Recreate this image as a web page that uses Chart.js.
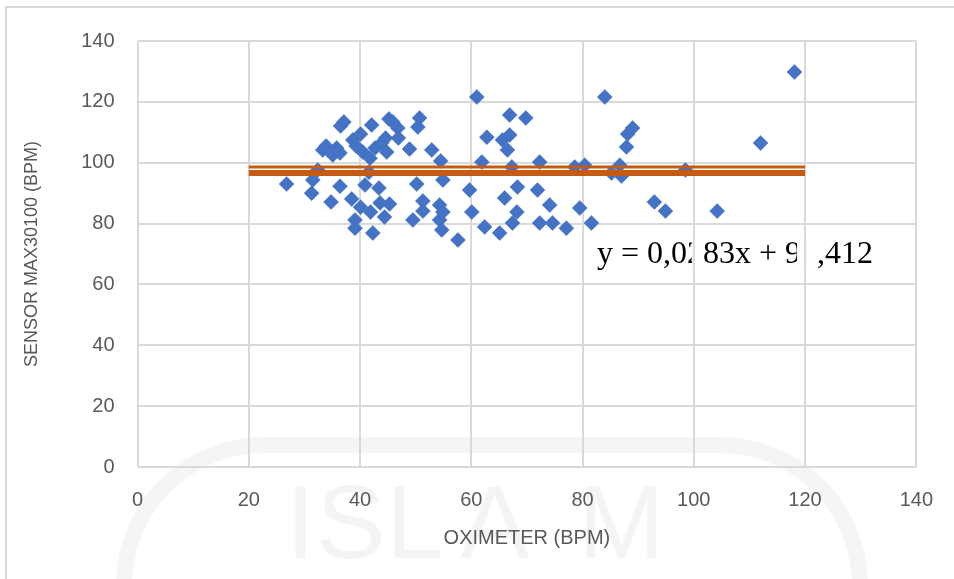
<!DOCTYPE html>
<html><head><meta charset="utf-8">
<script src="https://cdn.jsdelivr.net/npm/chart.js@4.4.0/dist/chart.umd.min.js"></script>
<style>
html,body{margin:0;padding:0;background:#fff;}
#wrap{position:relative;width:954px;height:579px;overflow:hidden;}
#frame{position:absolute;left:5px;top:6px;width:2000px;height:2000px;border-left:2px solid #d9d9d9;border-top:2px solid #d9d9d9;}
canvas{position:absolute;left:0;top:0;}
</style></head><body>
<div id="wrap"><div id="frame"></div><canvas id="c" width="954" height="579"></canvas></div>
<script>
// Scatter data: OXIMETER (x) vs SENSOR MAX30100 (y), in BPM
const oximeter = [26.8,31.3,31.5,32.4,33.3,33.9,34.8,35.1,36.4,36.5,37.1,36.4,35.8,38.7,38.5,39.1,39.1,40.1,40.1,40.5,
  40.9,41.6,41.8,42.1,41.9,42.3,42.7,43.4,43.6,43.9,44.4,44.6,44.8,45.2,45.3,45.9,46.8,46.9,48.9,49.5,
  50.2,50.4,50.7,51.3,51.3,52.9,54.5,54.3,54.9,54.3,54.7,54.9,57.6,59.7,60.1,61.0,61.9,62.4,62.8,65.1,
  66.9,69.8,65.6,66.9,66.5,67.3,68.3,66.0,68.2,67.4,72.3,71.9,74.1,72.3,74.6,77.1,78.6,80.4,79.5,81.6,
  84.0,85.2,86.7,87.0,87.9,89.0,88.1,92.9,94.9,98.5,104.2,112.0,118.1,39.3];
const sensor = [93.0,90.0,94.3,97.6,104.2,105.5,87.1,102.5,92.3,112.1,113.4,103.2,104.8,107.5,88.1,81.2,78.5,85.4,109.4,103.5,
  92.7,96.9,101.5,112.4,83.8,76.9,104.8,91.7,86.8,106.5,82.2,108.1,103.5,114.4,86.4,113.4,111.4,108.1,104.5,81.2,
  93.0,111.7,114.7,87.4,84.1,104.2,100.6,86.1,83.8,81.2,77.9,94.3,74.6,91.0,83.8,121.6,100.2,78.9,108.4,76.9,
  115.7,114.7,107.5,109.1,104.2,98.6,92.0,88.4,83.8,80.2,100.2,91.0,86.1,80.2,80.2,78.5,98.6,99.2,85.1,80.2,
  121.6,96.6,99.2,95.6,105.2,111.4,109.4,87.1,84.1,97.6,84.1,106.5,129.8,105.5];

// Horizontal reference lines
const refX = [20, 120];
const refUpper = [98.6, 98.6];
const refLower = [96.6, 96.6];

// Axis ticks and labels
const xTickValues = [0,20,40,60,80,100,120,140];
const yTickValues = [0,20,40,60,80,100,120,140];
const xTitle = 'OXIMETER (BPM)';
const yTitle = 'SENSOR MAX30100 (BPM)';
const equationText = 'y = 0,0283x + 91,412';
const equationAt = {x: 82.6, y: 67};
const watermarkLetters = ['I','S','L','A','M'];

const points = oximeter.map((v,i)=>({x:v, y:sensor[i]}));
const upperLine = refX.map((v,i)=>({x:v, y:refUpper[i]}));
const lowerLine = refX.map((v,i)=>({x:v, y:refLower[i]}));

const GRID = '#d9d9d9';
const TXT = '#595959';
const FAM = '"Liberation Sans", Arial, sans-serif';
const tickFont = {family:FAM, size:20};

const watermarkPlugin = {
  id:'watermark',
  beforeDraw(chart){
    const ctx = chart.ctx;
    ctx.save();
    ctx.strokeStyle = '#f5f5f5';
    ctx.lineWidth = 16;
    const l = 124, r = 860, t = 445, b = 700, rad = 140;
    ctx.beginPath();
    ctx.moveTo(l, b);
    ctx.lineTo(l, t+rad);
    ctx.arcTo(l, t, l+rad, t, rad);
    ctx.lineTo(r-rad, t);
    ctx.arcTo(r, t, r, t+rad, rad);
    ctx.lineTo(r, b);
    ctx.stroke();
    ctx.fillStyle = '#f4f4f4';
    ctx.font = '104px ' + FAM;
    ctx.textBaseline = 'alphabetic';
    const xs = [286, 316, 386, 460, 578];
    watermarkLetters.forEach((ch,i)=>ctx.fillText(ch, xs[i], 558));
    ctx.restore();
  }
};

const equationPlugin = {
  id:'equation',
  afterDraw(chart){
    const ctx = chart.ctx, xs = chart.scales.x, ys = chart.scales.y;
    const px = xs.getPixelForValue(equationAt.x), py = ys.getPixelForValue(equationAt.y);
    ctx.save();
    ctx.font = '32px "Liberation Serif", "Times New Roman", serif';
    ctx.fillStyle = '#000';
    ctx.textBaseline = 'alphabetic';
    ctx.textAlign = 'left';
    ctx.fillText(equationText, px, py);
    // gridlines cut through the label in the reference
    const gaps = [[100,-2,9],[120,-8,10]];
    gaps.forEach(([v,a,b])=>{
      const gx = xs.getPixelForValue(v);
      ctx.fillStyle = '#fff';
      ctx.fillRect(gx+a, py-26, b-a, 34);
      ctx.fillStyle = GRID;
      ctx.fillRect(gx-1, py-26, 2, 34);
    });
    ctx.restore();
  }
};

new Chart(document.getElementById('c'), {
  type:'scatter',
  data:{datasets:[
    {label:'data', data:points, pointStyle:'rectRot', pointRadius:7.5, pointHoverRadius:7.5,
     backgroundColor:'#4472C4', borderColor:'#4472C4', borderWidth:0.5, order:2},
    {type:'line', label:'upper', data:upperLine, borderColor:'#C55A11', borderWidth:3, pointRadius:0, showLine:true, fill:false, order:1},
    {type:'line', label:'lower', data:lowerLine, borderColor:'#C55A11', borderWidth:6, pointRadius:0, showLine:true, fill:false, order:1}
  ]},
  options:{
    responsive:false, animation:false,
    layout:{padding:{left:10, top:41, right:37, bottom:20}},
    plugins:{legend:{display:false}, tooltip:{enabled:false}},
    scales:{
      x:{type:'linear', min:0, max:140,
        afterBuildTicks(s){ s.ticks = xTickValues.map(v=>({value:v})); },
        afterFit(s){ s.height = 92; },
        grid:{color:GRID, lineWidth:2, drawTicks:false},
        border:{display:false},
        ticks:{color:TXT, font:tickFont, padding:21, maxRotation:0},
        title:{display:true, text:xTitle, color:TXT, font:{family:FAM, size:20}, padding:{top:4, bottom:9}}
      },
      y:{type:'linear', min:0, max:140,
        afterBuildTicks(s){ s.ticks = yTickValues.map(v=>({value:v})); },
        afterFit(s){ s.width = 127.5; },
        grid:{color:GRID, lineWidth:2, drawTicks:false},
        border:{display:false},
        ticks:{color:TXT, font:tickFont, padding:23},
        title:{display:true, text:yTitle, color:TXT, font:{family:FAM, size:18}, padding:{top:11, bottom:4}}
      }
    }
  },
  plugins:[watermarkPlugin, equationPlugin]
});
</script>
</body></html>
